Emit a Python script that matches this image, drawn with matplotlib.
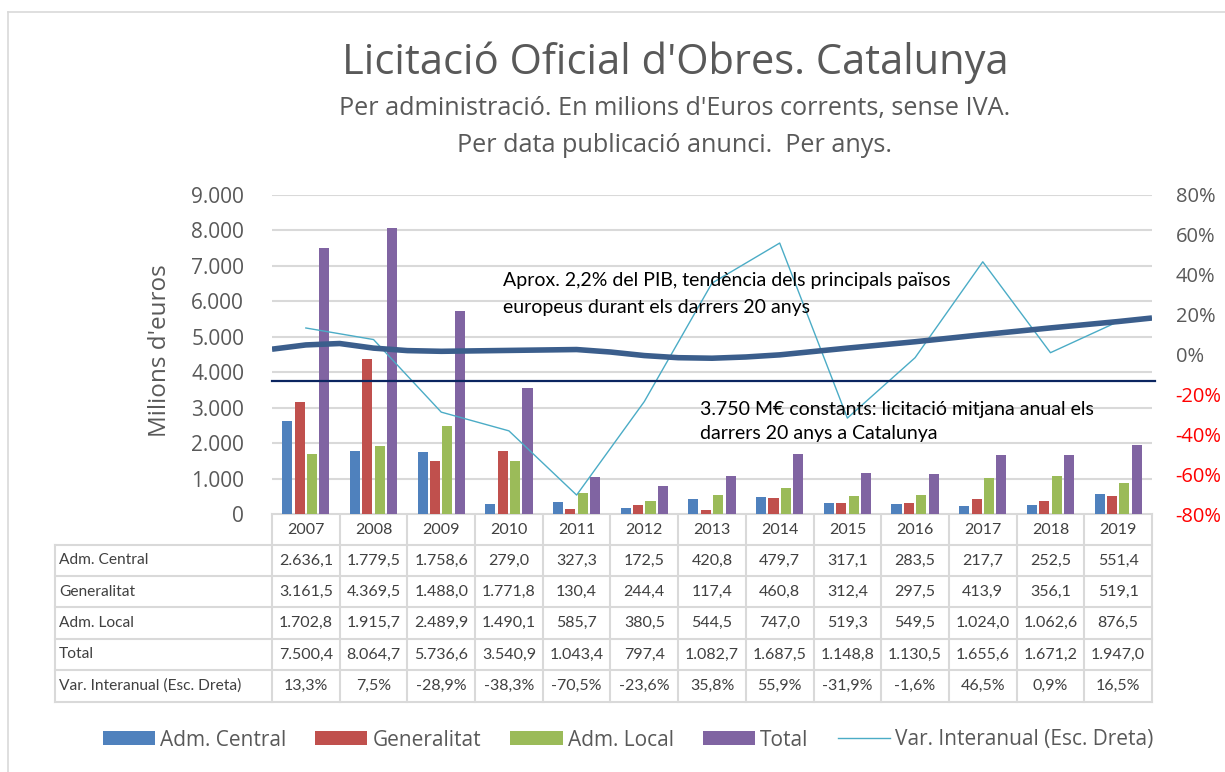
import matplotlib
matplotlib.use("Agg")
import matplotlib.pyplot as plt
from matplotlib.lines import Line2D
from matplotlib.patches import Patch

plt.rcParams['font.family'] = ['Open Sans', 'DejaVu Sans']

# --- data ---
years = [2007, 2008, 2009, 2010, 2011, 2012, 2013, 2014, 2015, 2016, 2017, 2018, 2019]
adm_central = [2636.1, 1779.5, 1758.6, 279.0, 327.3, 172.5, 420.8, 479.7, 317.1, 283.5, 217.7, 252.5, 551.4]
generalitat = [3161.5, 4369.5, 1488.0, 1771.8, 130.4, 244.4, 117.4, 460.8, 312.4, 297.5, 413.9, 356.1, 519.1]
adm_local = [1702.8, 1915.7, 2489.9, 1490.1, 585.7, 380.5, 544.5, 747.0, 519.3, 549.5, 1024.0, 1062.6, 876.5]
total = [7500.4, 8064.7, 5736.6, 3540.9, 1043.4, 797.4, 1082.7, 1687.5, 1148.8, 1130.5, 1655.6, 1671.2, 1947.0]
var_interanual = [13.3, 7.5, -28.9, -38.3, -70.5, -23.6, 35.8, 55.9, -31.9, -1.6, 46.5, 0.9, 16.5]
avg_const = 3750
# hand-drawn trend curve (2,2% PIB)
trend_years = [2006.5, 2007, 2007.5, 2008, 2008.5, 2009, 2010, 2011, 2011.5, 2012, 2012.5,
               2013, 2013.5, 2014, 2015, 2016, 2017, 2018, 2019, 2019.5]
trend_vals = [4650, 4770, 4810, 4680, 4610, 4590, 4615, 4640, 4570, 4470, 4410,
              4395, 4430, 4490, 4680, 4860, 5060, 5250, 5430, 5530]

series_names = ['Adm. Central', 'Generalitat', 'Adm. Local', 'Total']
series_vals = [adm_central, generalitat, adm_local, total]
colors = ['#4F81BD', '#C0504D', '#9BBB59', '#8064A2']
var_label = 'Var. Interanual (Esc. Dreta)'

GRAY = '#595959'
TXT = '#404040'
W, H = 1225, 772


def fmt_num(v):
    s = f"{v:,.1f}"
    return s.replace(',', 'X').replace('.', ',').replace('X', '.')


fig = plt.figure(figsize=(W / 100, H / 100), dpi=100)
fig.patch.set_facecolor('white')

# plot area in pixels
px0, px1, py_top, py_bot = 272, 1152, 195, 514
ax = fig.add_axes([px0 / W, 1 - py_bot / H, (px1 - px0) / W, (py_bot - py_top) / H])
x = list(range(len(years)))
slot, bw = 0.183, 0.148
for k, (vals, c) in enumerate(zip(series_vals, colors)):
    off = (k - 1.5) * slot
    ax.bar([i + off for i in x], vals, width=bw, color=c, zorder=2)

ax.set_xlim(-0.5, len(years) - 0.5)
ax.set_ylim(0, 9000)
ax.set_yticks(range(0, 9001, 1000))
ax.set_yticklabels([fmt_num(v)[:-2] if v else '0' for v in range(0, 9001, 1000)],
                   fontsize=15, color=GRAY)
ax.set_xticks([])
ax.tick_params(axis='y', length=0, pad=20)
ax.grid(axis='y', color='#D9D9D9', lw=1.5)
ax.set_axisbelow(True)
for s in ax.spines.values():
    s.set_visible(False)

ax2 = ax.twinx()
ax2.set_ylim(-80, 80)
ax2.set_yticks(range(-80, 81, 20))
ax2.set_yticklabels([f"{v}%" for v in range(-80, 81, 20)], fontsize=14.5)
for lab, v in zip(ax2.get_yticklabels(), range(-80, 81, 20)):
    lab.set_color('#FF0000' if v < 0 else GRAY)
ax2.tick_params(axis='y', length=0, pad=17)
for s in ax2.spines.values():
    s.set_visible(False)

ax2.plot(x, var_interanual, color='#4BACC6', lw=1, zorder=3)
# trend and constant-average lines drawn on top, in left-axis units
ax2.plot([yy - years[0] for yy in trend_years], trend_vals, transform=ax.transData,
         color='#3B5E8C', lw=4, solid_capstyle='butt', solid_joinstyle='round', zorder=4)
ax2.plot([-0.5, len(years) - 0.45], [avg_const, avg_const], transform=ax.transData,
         color='#0B2560', lw=1.6, clip_on=False, zorder=4)

# --- overlay for table, border and texts (pixel coords) ---
ov = fig.add_axes([0, 0, 1, 1], zorder=-1)
ov.set_xlim(0, W)
ov.set_ylim(H, 0)
ov.axis('off')

lc = '#D9D9D9'
ov.plot([8, 8], [12, H], color=lc, lw=1.2)
ov.plot([8, W], [12, 12], color=lc, lw=1.2)

col_w = (px1 - px0) / len(years)
row_y = [514, 545, 576, 607, 639, 670, 702]
tab_left = 55
ov.plot([px0, px1], [row_y[0]] * 2, color=lc, lw=1.5)
for yy in row_y[1:]:
    ov.plot([tab_left, px1], [yy, yy], color=lc, lw=1.5)
ov.plot([tab_left, tab_left], [row_y[1], row_y[-1]], color=lc, lw=1.5)
for k in range(len(years) + 1):
    xx = px0 + k * col_w
    ov.plot([xx, xx], [row_y[0], row_y[-1]], color=lc, lw=1.5)

tfont = dict(family=['Lato', 'DejaVu Sans'], fontsize=11.5, color=TXT, va='center')
for i, yv in enumerate(years):
    ov.text(px0 + (i + 0.5) * col_w, (row_y[0] + row_y[1]) / 2, str(yv), ha='center', **tfont)

rows = [(n, [fmt_num(v) for v in vals]) for n, vals in zip(series_names, series_vals)]
rows.append((var_label, [fmt_num(v) + '%' for v in var_interanual]))
for r, (name, cells) in enumerate(rows):
    yc = (row_y[r + 1] + row_y[r + 2]) / 2
    ov.text(tab_left + 4, yc, name, ha='left', **dict(tfont, fontsize=11.2))
    for i, s in enumerate(cells):
        ov.text(px0 + (i + 0.5) * col_w, yc, s, ha='center', **tfont)

# titles
fig.text(675 / W, 1 - 63 / H, "Licitació Oficial d'Obres. Catalunya",
         ha='center', va='center', fontsize=30, color=GRAY)
fig.text(675 / W, 1 - 108 / H, "Per administració. En milions d'Euros corrents, sense IVA.",
         ha='center', va='center', fontsize=18.2, color=GRAY)
fig.text(675 / W, 1 - 146 / H, "Per data publicació anunci.  Per anys.",
         ha='center', va='center', fontsize=18.2, color=GRAY)
fig.text(160 / W, 1 - 351 / H, "Milions d'euros", rotation=90,
         ha='center', va='center', fontsize=17.5, color=GRAY)

afont = dict(family=['Lato', 'DejaVu Sans'], fontsize=14, color='black', va='center', ha='left')
fig.text(503 / W, 1 - 281 / H, "Aprox. 2,2% del PIB, tendència dels principals països", **afont)
fig.text(503 / W, 1 - 307 / H, "europeus durant els darrers 20 anys", **afont)
fig.text(700 / W, 1 - 409 / H, "3.750 M€ constants: licitació mitjana anual els", **afont)
fig.text(700 / W, 1 - 434 / H, "darrers 20 anys a Catalunya", **afont)

# legend
handles = [Patch(facecolor=c, edgecolor='none') for c in colors]
handles.append(Line2D([0], [0], color='#4BACC6', lw=1))
fig.legend(handles, series_names + [var_label], loc='center',
           bbox_to_anchor=(628 / W, 1 - 740 / H), ncol=5, frameon=False,
           fontsize=15, handlelength=2.5, handleheight=0.65, handletextpad=0.25,
           columnspacing=1.4, labelcolor=GRAY)

fig.savefig('out.png', dpi=100)
